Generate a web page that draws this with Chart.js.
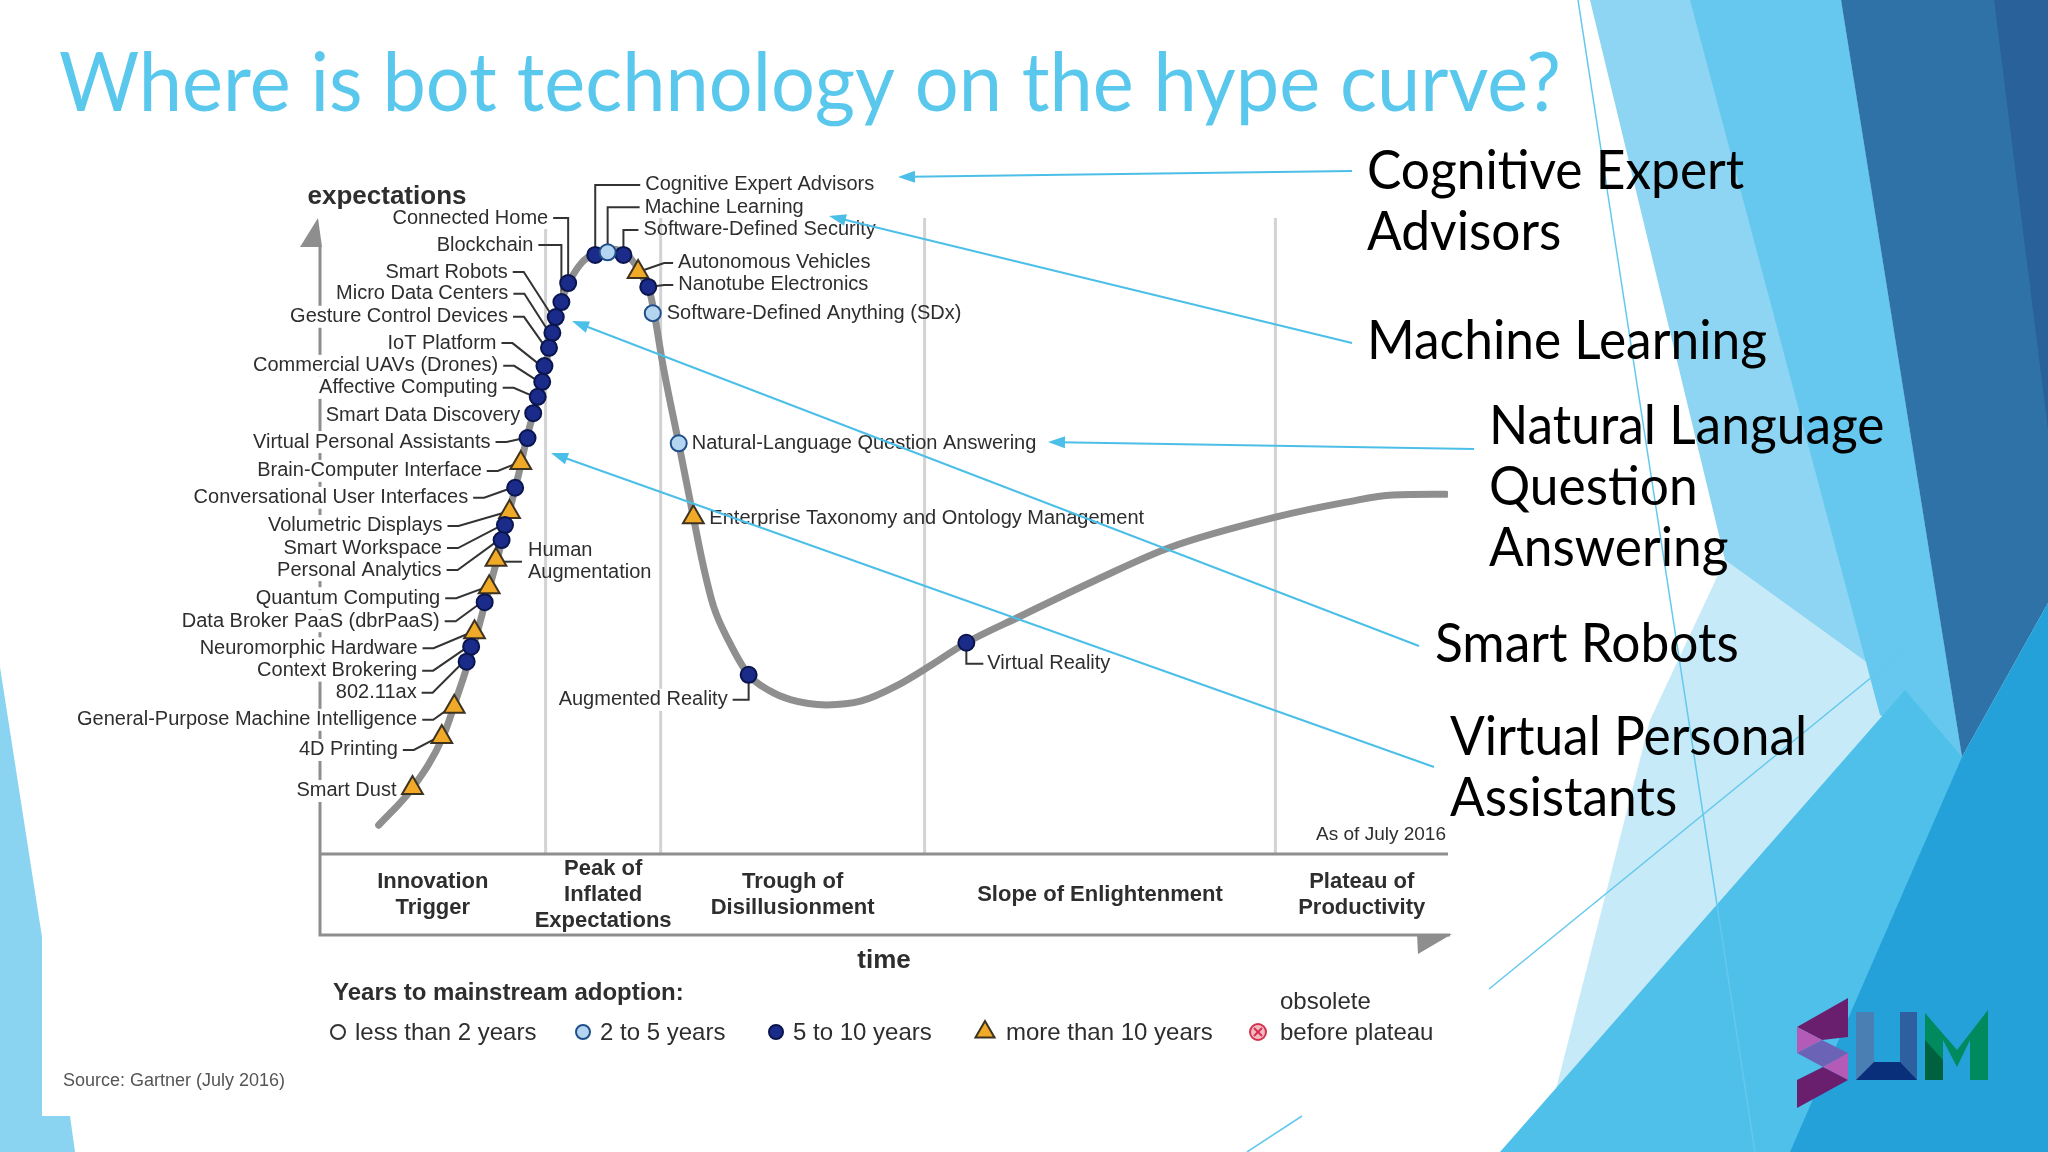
<!DOCTYPE html>
<html>
<head>
<meta charset="utf-8">
<title>Where is bot technology on the hype curve?</title>
<script src="https://cdn.jsdelivr.net/npm/chart.js@4.4.1/dist/chart.umd.min.js"></script>
<style>
  html, body { margin: 0; padding: 0; background: #fff; overflow: hidden; }
  canvas { display: block; }
</style>
</head>
<body>
<canvas id="hype" width="2048" height="1152"></canvas>
<script>
const curveX = [5.2, 8.2, 10.9, 12.2, 13.5, 14.6, 15.7, 16.7, 17.6, 18.4, 19.3, 20.0, 20.7, 21.4, 22.2, 23.2, 24.4, 25.5, 26.7, 27.8, 28.6, 29.3, 29.7, 30.4, 31.8, 33.1, 34.0, 34.9, 36.2, 38.0, 39.7, 41.7, 44.9, 48.0, 51.1, 54.2, 57.3, 61.9, 68.8, 75.4, 84.7, 91.0, 95.1, 99.8];
const curveY = [4.4, 10.1, 17.9, 24.3, 31.2, 38.1, 45.0, 51.8, 58.0, 64.1, 69.7, 74.9, 80.1, 84.6, 87.8, 90.4, 91.9, 92.5, 92.2, 90.5, 88.2, 85.5, 82.0, 74.8, 62.8, 51.5, 43.9, 37.8, 32.7, 27.4, 25.1, 23.6, 22.8, 23.4, 25.7, 28.9, 32.3, 36.2, 41.9, 46.9, 51.5, 53.8, 54.9, 55.0];

const techNames = ["Connected Home", "Blockchain", "Smart Robots", "Micro Data Centers", "Gesture Control Devices",
  "IoT Platform", "Commercial UAVs (Drones)", "Affective Computing", "Smart Data Discovery", "Virtual Personal Assistants",
  "Brain-Computer Interface", "Conversational User Interfaces", "Volumetric Displays", "Smart Workspace", "Personal Analytics",
  "Human Augmentation", "Quantum Computing", "Data Broker PaaS (dbrPaaS)", "Neuromorphic Hardware", "Context Brokering",
  "802.11ax", "General-Purpose Machine Intelligence", "4D Printing", "Smart Dust", "Cognitive Expert Advisors",
  "Machine Learning", "Software-Defined Security", "Autonomous Vehicles", "Nanotube Electronics", "Software-Defined Anything (SDx)",
  "Natural-Language Question Answering", "Enterprise Taxonomy and Ontology Management", "Augmented Reality", "Virtual Reality"];
const techX = [22.0, 21.4, 20.9, 20.6, 20.3, 19.9, 19.7, 19.3, 18.9, 18.4, 17.8, 17.3, 16.8, 16.4, 16.1, 15.6, 15.0, 14.6, 13.7, 13.4,
  13.0, 11.9, 10.8, 8.2, 24.4, 25.5, 26.9, 28.2, 29.1, 29.5, 31.8, 33.1, 38.0, 57.3];
const techY = [87.3, 84.4, 82.1, 79.7, 77.4, 74.6, 72.2, 69.9, 67.4, 63.6, 59.8, 56.0, 52.3, 50.3, 48.0, 45.0, 40.8, 38.5, 33.9, 31.7,
  29.4, 22.5, 17.9, 10.1, 91.6, 92.0, 91.6, 89.0, 86.7, 82.7, 62.8, 51.5, 27.4, 32.3];
const techYears = ["5-10", "5-10", "5-10", "5-10", "5-10", "5-10", "5-10", "5-10", "5-10", "5-10",
  ">10", "5-10", ">10", "5-10", "5-10", ">10", ">10", "5-10", ">10", "5-10",
  "5-10", ">10", ">10", ">10", "5-10", "2-5", "5-10", ">10", "5-10", "2-5",
  "2-5", ">10", "5-10", "5-10"];

const phaseNames = [["Innovation", "Trigger"], ["Peak of", "Inflated", "Expectations"], ["Trough of", "Disillusionment"],
  ["Slope of Enlightenment"], ["Plateau of", "Productivity"]];
const phaseBounds = [0, 20.0, 30.2, 53.6, 84.7, 100];
const legendKeys = ["<2", "2-5", "5-10", ">10", "obsolete"];
const legendLabels = ["less than 2 years", "2 to 5 years", "5 to 10 years", "more than 10 years", "before plateau"];
const calloutText = [["Cognitive Expert", "Advisors"], ["Machine Learning"], ["Natural Language", "Question", "Answering"],
  ["Smart Robots"], ["Virtual Personal", "Assistants"]];

// ---- styles and layout (kept apart from the values)
const FONT = '"Liberation Sans", Arial, sans-serif';
const SLIDE_FONT = 'Lato, "DejaVu Sans", sans-serif';
const TEXT = '#2e2e2e';
const groupStyle = {
  "<2":   { pointStyle: 'circle', radius: 7, bg: '#ffffff', border: '#333333' },
  "2-5":  { pointStyle: 'circle', radius: 8, bg: '#b4d5f0', border: '#1f4f8a' },
  "5-10": { pointStyle: 'circle', radius: 8, bg: '#1b2b8a', border: '#0b154d' },
  ">10":  { pointStyle: 'triangle', radius: 12, bg: '#f1a928', border: '#3d3320' }
};

// label offset from its marker (px) and leader kind
const labelLayout = {
  "Connected Home": [-20, -65, "LE"], "Blockchain": [-28, -57, "LE"], "Smart Robots": [-48, -45, "L"],
  "Micro Data Centers": [-44, -39, "L"], "Gesture Control Devices": [-41, -31, "L"], "IoT Platform": [-48, -23, "L"],
  "Commercial UAVs (Drones)": [-44, -16, "L"], "Affective Computing": [-40, -9, "L"], "Smart Data Discovery": [-13, 2, "L0"],
  "Virtual Personal Assistants": [-37, 4, "L"], "Brain-Computer Interface": [-39, 8, "L"],
  "Conversational User Interfaces": [-47, 10, "L"], "Volumetric Displays": [-67, 14, "L"], "Smart Workspace": [-63, 23, "L"],
  "Personal Analytics": [-60, 30, "L"], "Human Augmentation": [32, 2, "RH", ["Human", "Augmentation"]],
  "Quantum Computing": [-49, 11, "L"], "Data Broker PaaS (dbrPaaS)": [-45, 19, "L"], "Neuromorphic Hardware": [-57, 16, "L"],
  "Context Brokering": [-54, 24, "L"], "802.11ax": [-50, 31, "L"], "General-Purpose Machine Intelligence": [-37, 13, "L"],
  "4D Printing": [-44, 13, "L"], "Smart Dust": [-16, 3, "L0"], "Cognitive Expert Advisors": [50, -70, "RU"],
  "Machine Learning": [37, -45, "RU"], "Software-Defined Security": [20, -25, "RU"], "Autonomous Vehicles": [40, -9, "RL"],
  "Nanotube Electronics": [30, -2, "RL"], "Software-Defined Anything (SDx)": [14, 0, "R0"],
  "Natural-Language Question Answering": [13, 0, "R0"], "Enterprise Taxonomy and Ontology Management": [16, 1, "R0"],
  "Augmented Reality": [-21, 25, "LD"], "Virtual Reality": [21, 21, "RD"]
};
const legs = {
  L:  (p, t) => [[t[0] + 5, t[1]], [t[0] + 16, t[1]], [p[0] - 3, p[1]]],
  LE: (p, t) => [[t[0] + 5, t[1]], [p[0], t[1]], p],
  LD: (p, t) => [p, [p[0], t[1]], [t[0] + 5, t[1]]],
  RU: (p, t) => [p, [p[0], t[1]], [t[0] - 5, t[1]]],
  RL: (p, t) => [p, [t[0] - 14, t[1]], [t[0] - 5, t[1]]],
  RH: (p, t) => [[p[0], p[1] + 2], [t[0] - 6, p[1] + 2]],
  RD: (p, t) => [p, [p[0], t[1]], [t[0] - 4, t[1]]]
};
const legendX = [338, 583, 776, 985, 1258];

// slide callouts: text position (left, first baseline), line start, arrow tip
const calloutLayout = [
  { x: 1367, y: 189, from: [1352, 171], to: [898, 177] },
  { x: 1367, y: 359, from: [1352, 343], to: [829, 216] },
  { x: 1489, y: 444, from: [1474, 449], to: [1048, 442] },
  { x: 1435, y: 662, from: [1419, 646], to: [572, 321] },
  { x: 1450, y: 755, from: [1434, 767], to: [551, 453] }
];

// slide theme facets
const facets = [
  ['#8ad4f1', [[0, 667], [42, 937], [42, 1116], [70, 1116], [75, 1152], [0, 1152]]],
  ['#c7eaf8', [[1540, 1152], [1650, 720], [1725, 560], [1905, 690], [1700, 1152]]],
  ['#8dd5f2', [[1590, 0], [1841, 0], [1962, 757], [1905, 690], [1725, 560]]],
  ['#66c8ee', [[1690, 0], [1841, 0], [1962, 757], [1880, 715]]],
  ['#2f72a7', [[1841, 0], [2048, 0], [2048, 603], [1962, 757]]],
  ['#29629a', [[1994, 0], [2048, 0], [2048, 430]]],
  ['#4fc0ea', [[1500, 1152], [1905, 690], [1962, 757], [2048, 603], [2048, 1152]]],
  ['#24a1d9', [[1790, 1152], [1962, 757], [2048, 603], [2048, 1152]]]
];
const facetLines = [[[1578, 0], [1755, 1152]], [[1489, 989], [1905, 650]], [[1247, 1152], [1302, 1116]]];
const logo = [
  ['#6a1f6e', [[1797, 1027], [1848, 998], [1848, 1037], [1822, 1040]]],
  ['#b45bb8', [[1797, 1027], [1822, 1040], [1797, 1053]]],
  ['#6b63b5', [[1797, 1053], [1822, 1040], [1848, 1053], [1823, 1067]]],
  ['#b45bb8', [[1848, 1053], [1848, 1080], [1823, 1067]]],
  ['#6a1f6e', [[1797, 1080], [1823, 1067], [1848, 1080], [1797, 1108]]],
  ['#4a7fb3', [[1856, 1012], [1874, 1012], [1874, 1080], [1856, 1080]]],
  ['#2e5f9e', [[1900, 1012], [1917, 1012], [1917, 1080], [1900, 1080]]],
  ['#0a2f7a', [[1856, 1080], [1874, 1062], [1900, 1062], [1917, 1080]]],
  ['#008a5e', [[1925, 1080], [1925, 1013], [1957, 1050], [1988, 1010], [1988, 1080], [1970, 1080], [1970, 1040], [1957, 1067], [1943, 1040], [1943, 1080]]],
  ['#00613f', [[1925, 1080], [1925, 1040], [1943, 1060], [1943, 1080]]]
];

function poly(ctx, pts, fill) {
  ctx.beginPath();
  pts.forEach(([x, y], i) => i ? ctx.lineTo(x, y) : ctx.moveTo(x, y));
  ctx.closePath();
  ctx.fillStyle = fill;
  ctx.fill();
}
function path(ctx, pts) {
  ctx.beginPath();
  pts.forEach(([x, y], i) => i ? ctx.lineTo(x, y) : ctx.moveTo(x, y));
  ctx.stroke();
}
function arrow(ctx, [x1, y1], [x2, y2]) {
  const a = Math.atan2(y2 - y1, x2 - x1), c = Math.cos(a), s = Math.sin(a);
  path(ctx, [[x1, y1], [x2 - 12 * c, y2 - 12 * s]]);
  poly(ctx, [[x2, y2], [x2 - 17 * c + 6 * s, y2 - 17 * s - 6 * c], [x2 - 17 * c - 6 * s, y2 - 17 * s + 6 * c]], ctx.strokeStyle);
}
function marker(ctx, key, x, y) {
  if (key === 'obsolete') {
    ctx.fillStyle = '#f5b9c4'; ctx.strokeStyle = '#d2334c'; ctx.lineWidth = 2;
    ctx.beginPath(); ctx.arc(x, y, 8, 0, Math.PI * 2); ctx.fill(); ctx.stroke();
    path(ctx, [[x - 4, y - 4], [x + 4, y + 4]]); path(ctx, [[x + 4, y - 4], [x - 4, y + 4]]);
    return;
  }
  const g = groupStyle[key];
  ctx.fillStyle = g.bg; ctx.strokeStyle = g.border; ctx.lineWidth = 2;
  Chart.helpers.drawPoint(ctx, { pointStyle: g.pointStyle, radius: key === '>10' ? 11 : 7, borderWidth: 2, rotation: 0 }, x, y);
}
function labelPoints(chart) {
  const sx = chart.scales.x, sy = chart.scales.y;
  return techNames.map((name, i) => {
    const [dx, dy, kind, lines] = labelLayout[name];
    const p = [sx.getPixelForValue(techX[i]), sy.getPixelForValue(techY[i])];
    return { name, p, t: [p[0] + dx, p[1] + dy], kind, lines: lines || [name] };
  });
}

const hypePlugin = {
  id: 'hype',
  beforeDraw(chart) {
    const ctx = chart.ctx;
    ctx.save();
    ctx.fillStyle = '#fff';
    ctx.fillRect(0, 0, chart.width, chart.height);
    facets.forEach(([c, pts]) => poly(ctx, pts, c));
    ctx.strokeStyle = '#63c8ee'; ctx.lineWidth = 1.5;
    facetLines.forEach(l => path(ctx, l));
    logo.forEach(([c, pts]) => poly(ctx, pts, c));
    ctx.restore();
  },
  beforeDatasetsDraw(chart) {
    const ctx = chart.ctx, { left, right, top, bottom } = chart.chartArea, sx = chart.scales.x;
    const bandBottom = bottom + 81;
    ctx.save();
    ctx.lineCap = 'butt';
    ctx.strokeStyle = '#d3d3d3'; ctx.lineWidth = 3;
    phaseBounds.slice(1, -1).forEach(b => {
      const x = sx.getPixelForValue(b);
      path(ctx, [[x, top + 18], [x, bottom]]);
    });
    ctx.strokeStyle = '#8e8e8e'; ctx.lineWidth = 3;
    path(ctx, [[left, top + 46], [left, bandBottom], [right + 2, bandBottom]]);
    path(ctx, [[left, bottom], [right, bottom]]);
    poly(ctx, [[left - 2, top + 18], [left + 2, top + 47], [left - 20, top + 47]], '#8e8e8e');
    poly(ctx, [[right - 31, bandBottom - 1], [right + 4, bandBottom - 1], [right - 30, bandBottom + 19]], '#8e8e8e');

    const labels = labelPoints(chart);
    ctx.font = '20px ' + FONT;
    ctx.fillStyle = '#fff';
    labels.forEach(l => {
      if (l.kind[0] !== 'L') return;
      const w = ctx.measureText(l.name).width;
      ctx.fillRect(l.t[0] - w - 2, l.t[1] - 11, w + 4, 22);
    });
    ctx.strokeStyle = '#333'; ctx.lineWidth = 2;
    labels.forEach(l => { if (legs[l.kind]) path(ctx, legs[l.kind](l.p, l.t)); });
    ctx.restore();
  },
  afterDatasetsDraw(chart) {
    const ctx = chart.ctx, { left, right, top, bottom } = chart.chartArea, sx = chart.scales.x;
    const bandBottom = bottom + 81;
    ctx.save();
    ctx.fillStyle = TEXT;
    ctx.textBaseline = 'middle';
    ctx.font = '20px ' + FONT;
    labelPoints(chart).forEach(l => {
      ctx.textAlign = l.kind[0] === 'L' ? 'right' : 'left';
      const y0 = l.t[1] - (l.lines.length - 1) * 11;
      l.lines.forEach((s, k) => ctx.fillText(s, l.t[0], y0 + k * 22));
    });

    // phase names inside the band
    ctx.font = 'bold 22px ' + FONT;
    ctx.textAlign = 'center';
    phaseNames.forEach((lines, i) => {
      const x = sx.getPixelForValue((phaseBounds[i] + phaseBounds[i + 1]) / 2);
      const y0 = (bottom + bandBottom) / 2 - (lines.length - 1) * 13;
      lines.forEach((s, k) => ctx.fillText(s, x, y0 + k * 26));
    });
    ctx.font = 'bold 26px ' + FONT;
    ctx.fillText('expectations', left + 67, top - 3);
    ctx.fillText('time', (left + right) / 2, bandBottom + 26);
    ctx.font = '19px ' + FONT;
    ctx.textAlign = 'right';
    ctx.fillText('As of July 2016', right - 2, bottom - 19);

    // legend
    ctx.textAlign = 'left';
    ctx.font = 'bold 24px ' + FONT;
    ctx.fillText('Years to mainstream adoption:', 333, 993);
    ctx.font = '24px ' + FONT;
    legendKeys.forEach((k, i) => {
      marker(ctx, k, legendX[i], 1032);
      ctx.fillStyle = TEXT;
      ctx.fillText(legendLabels[i], legendX[i] + (k === 'obsolete' ? 22 : k === '>10' ? 21 : 17), 1033);
    });
    ctx.fillText('obsolete', legendX[4] + 22, 1002);
    ctx.fillStyle = '#555';
    ctx.font = '18px ' + FONT;
    ctx.fillText('Source: Gartner (July 2016)', 63, 1081);
    ctx.restore();
  },
  afterDraw(chart) {
    const ctx = chart.ctx;
    ctx.save();
    ctx.textBaseline = 'alphabetic';
    ctx.textAlign = 'left';
    // title, squeezed to the slide's width
    const title = 'Where is bot technology on the hype curve?';
    ctx.font = '81px ' + SLIDE_FONT;
    const tk = 1502 / ctx.measureText(title).width;
    ctx.fillStyle = '#5ac8ec';
    ctx.setTransform(tk, 0, 0, 1, 59, 111);
    ctx.fillText(title, 0, 0);
    ctx.setTransform(1, 0, 0, 1, 0, 0);

    // callout arrows and labels
    ctx.strokeStyle = '#4cbfe8'; ctx.lineWidth = 2;
    calloutLayout.forEach(c => arrow(ctx, c.from, c.to));
    ctx.font = '54px ' + SLIDE_FONT;
    const ck = 400 / ctx.measureText('Machine Learning').width;
    ctx.fillStyle = '#000';
    calloutLayout.forEach((c, i) => {
      calloutText[i].forEach((s, k) => {
        ctx.setTransform(ck, 0, 0, 1, c.x, c.y + k * 61);
        ctx.fillText(s, 0, 0);
      });
    });
    ctx.restore();
  }
};

const pointSets = Object.keys(groupStyle).map((key, gi) => {
  const g = groupStyle[key];
  return {
    label: legendLabels[gi],
    data: techNames.map((n, i) => techYears[i] === key ? { x: techX[i], y: techY[i] } : null).filter(Boolean),
    pointStyle: g.pointStyle,
    pointRadius: g.radius,
    pointBackgroundColor: g.bg,
    pointBorderColor: g.border,
    pointBorderWidth: 2,
    order: 0
  };
});

new Chart(document.getElementById('hype'), {
  type: 'scatter',
  data: {
    datasets: [
      ...pointSets,
      {
        label: 'hype cycle',
        data: curveX.map((x, i) => ({ x, y: curveY[i] })),
        showLine: true,
        borderColor: '#8f8f8f',
        borderWidth: 7,
        borderCapStyle: 'round',
        pointRadius: 0,
        cubicInterpolationMode: 'monotone',
        order: 10
      }
    ]
  },
  options: {
    responsive: false,
    animation: false,
    devicePixelRatio: 1,
    events: [],
    layout: { padding: { left: 320, right: 600, top: 200, bottom: 298 } },
    scales: {
      x: { type: 'linear', min: 0, max: 100, display: false },
      y: { type: 'linear', min: 0, max: 100, display: false }
    },
    plugins: { legend: { display: false }, tooltip: { enabled: false } }
  },
  plugins: [hypePlugin]
});
</script>
</body>
</html>
